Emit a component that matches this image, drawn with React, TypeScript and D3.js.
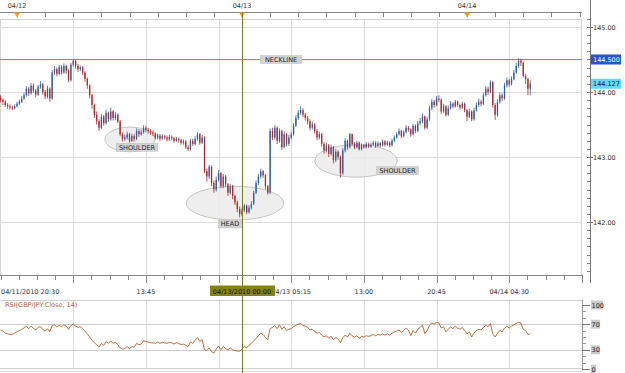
import React from 'react';
import * as d3 from 'd3';

// ---------- DATA ----------
const startTime = Date.UTC(2010, 3, 11, 22, 15); // first 15-minute bar
const barMinutes = 15;
const firstOpen = 143.92;

const closes = [
  143.88, 143.85, 143.80, 143.78, 143.76, 143.75,
  143.78, 143.82, 143.85, 143.90, 143.95,
  144.05, 143.98, 144.10, 144.02, 143.96, 144.08, 144.12, 144.00, 143.93, 144.05, 143.90,
  144.30,
  144.35, 144.28, 144.38, 144.30, 144.40, 144.33, 144.18, 144.42,
  144.48,
  144.40, 144.35, 144.38, 144.30,
  144.20, 144.10, 143.95,
  143.80, 143.65, 143.55,
  143.45,
  143.62, 143.52, 143.68, 143.58, 143.70, 143.60, 143.65,
  143.55,
  143.35, 143.28,
  143.30, 143.35, 143.25, 143.32, 143.28, 143.40, 143.35, 143.38,
  143.45, 143.42, 143.40, 143.38, 143.36,
  143.30, 143.33, 143.28, 143.32, 143.30, 143.27, 143.31, 143.29, 143.25, 143.28, 143.26, 143.22, 143.24,
  143.15, 143.12,
  143.25, 143.20, 143.28, 143.35, 143.22, 143.30,
  142.78,
  142.70, 142.85, 142.60,
  142.50, 142.65, 142.75, 142.55, 142.70, 142.58,
  142.45, 142.55, 142.40,
  142.30, 142.20, 142.12,
  142.18, 142.25, 142.15, 142.22, 142.28,
  142.45, 142.60, 142.70, 142.78,
  142.72, 142.55, 142.45,
  143.40,
  143.30, 143.45, 143.25, 143.40, 143.15, 143.35, 143.20, 143.30,
  143.35, 143.48, 143.60, 143.68, 143.72, 143.65,
  143.60, 143.55, 143.45, 143.50,
  143.40, 143.30, 143.35, 143.20,
  143.10, 143.18, 143.05, 143.15, 142.95, 143.08, 143.00, 142.75,
  143.10, 143.25, 143.15, 143.35,
  143.20, 143.15, 143.22, 143.12, 143.18, 143.15, 143.20, 143.16, 143.19, 143.22, 143.17, 143.21, 143.18, 143.24, 143.19,
  143.22, 143.18, 143.25, 143.30,
  143.35, 143.40, 143.32, 143.38, 143.45,
  143.42, 143.35, 143.48, 143.40, 143.52,
  143.55, 143.62, 143.45, 143.58,
  143.75, 143.85, 143.80, 143.90,
  143.88, 143.70, 143.78, 143.65,
  143.75, 143.82, 143.78, 143.85, 143.80, 143.76, 143.82,
  143.72, 143.62,
  143.70, 143.58,
  143.72, 143.80, 143.85, 143.82,
  143.95, 144.05, 144.00,
  144.15,
  143.80, 143.65,
  143.85, 143.95, 143.90,
  144.10, 144.18, 144.12, 144.20,
  144.30, 144.40, 144.48,
  144.45,
  144.25, 144.20, 144.05, 144.13,
];

const highs = [
  143.95, 143.90, 143.87, 143.83, 143.81, 143.79, 143.81, 143.85, 143.88, 143.94,
  143.99, 144.09, 144.08, 144.14, 144.13, 144.05, 144.11, 144.17, 144.14, 144.03,
  144.10, 144.07, 144.34, 144.40, 144.38, 144.42, 144.41, 144.44, 144.42, 144.35,
  144.45, 144.50, 144.49, 144.43, 144.41, 144.40, 144.32, 144.22, 144.12, 143.97,
  143.82, 143.70, 143.58, 143.66, 143.65, 143.73, 143.70, 143.76, 143.72, 143.69,
  143.67, 143.57, 143.38, 143.34, 143.39, 143.37, 143.36, 143.35, 143.44, 143.43,
  143.42, 143.49, 143.48, 143.45, 143.43, 143.41, 143.38, 143.36, 143.35, 143.35,
  143.34, 143.33, 143.34, 143.33, 143.31, 143.31, 143.30, 143.28, 143.27, 143.26,
  143.18, 143.28, 143.28, 143.32, 143.38, 143.37, 143.34, 143.32, 142.82, 142.88,
  142.87, 142.64, 142.70, 142.80, 142.77, 142.74, 142.72, 142.60, 142.59, 142.57,
  142.42, 142.33, 142.24, 142.22, 142.28, 142.27, 142.26, 142.32, 142.48, 142.64,
  142.74, 142.82, 142.80, 142.74, 142.57, 143.44, 143.45, 143.49, 143.47, 143.44,
  143.42, 143.39, 143.37, 143.34, 143.39, 143.52, 143.64, 143.72, 143.78, 143.75,
  143.68, 143.63, 143.58, 143.54, 143.52, 143.43, 143.39, 143.37, 143.23, 143.22,
  143.20, 143.19, 143.17, 143.12, 143.10, 143.02, 143.14, 143.29, 143.27, 143.37,
  143.36, 143.23, 143.25, 143.24, 143.21, 143.20, 143.23, 143.22, 143.22, 143.25,
  143.24, 143.24, 143.23, 143.27, 143.26, 143.25, 143.24, 143.28, 143.33, 143.38,
  143.44, 143.42, 143.41, 143.49, 143.48, 143.44, 143.51, 143.50, 143.56, 143.60,
  143.67, 143.64, 143.62, 143.79, 143.89, 143.88, 143.94, 143.95, 143.90, 143.82,
  143.80, 143.79, 143.86, 143.84, 143.88, 143.87, 143.82, 143.85, 143.84, 143.74,
  143.74, 143.72, 143.76, 143.84, 143.90, 143.88, 143.99, 144.09, 144.08, 144.18,
  144.17, 143.83, 143.89, 143.99, 143.98, 144.14, 144.22, 144.20, 144.24, 144.34,
  144.45, 144.52, 144.51, 144.47, 144.28, 144.22, 144.18,
];

const lows = [
  143.84, 143.80, 143.77, 143.74, 143.73, 143.72, 143.73, 143.76, 143.80, 143.83,
  143.88, 143.93, 143.94, 143.96, 143.99, 143.92, 143.94, 144.05, 143.96, 143.89,
  143.90, 143.85, 143.88, 144.26, 144.24, 144.26, 144.27, 144.28, 144.28, 144.15,
  144.16, 144.39, 144.36, 144.31, 144.32, 144.26, 144.16, 144.05, 143.90, 143.74,
  143.60, 143.50, 143.40, 143.43, 143.48, 143.50, 143.54, 143.56, 143.56, 143.57,
  143.52, 143.32, 143.24, 143.25, 143.27, 143.22, 143.23, 143.24, 143.26, 143.31,
  143.33, 143.36, 143.38, 143.36, 143.34, 143.32, 143.27, 143.27, 143.25, 143.26,
  143.27, 143.24, 143.25, 143.26, 143.22, 143.23, 143.22, 143.19, 143.19, 143.12,
  143.09, 143.10, 143.17, 143.18, 143.25, 143.19, 143.20, 142.75, 142.62, 142.66,
  142.55, 142.45, 142.47, 142.62, 142.52, 142.52, 142.54, 142.40, 142.42, 142.35,
  142.26, 142.15, 142.07, 142.09, 142.15, 142.12, 142.13, 142.19, 142.26, 142.43,
  142.57, 142.67, 142.68, 142.50, 142.42, 142.43, 143.26, 143.27, 143.20, 143.22,
  143.11, 143.13, 143.16, 143.17, 143.27, 143.33, 143.46, 143.57, 143.65, 143.61,
  143.56, 143.50, 143.41, 143.42, 143.36, 143.26, 143.27, 143.16, 143.05, 143.07,
  143.00, 143.02, 142.90, 142.92, 142.96, 142.68, 142.72, 143.07, 143.11, 143.13,
  143.17, 143.12, 143.13, 143.10, 143.10, 143.13, 143.13, 143.14, 143.14, 143.17,
  143.14, 143.15, 143.15, 143.16, 143.16, 143.17, 143.15, 143.16, 143.23, 143.28,
  143.33, 143.29, 143.30, 143.36, 143.39, 143.31, 143.33, 143.37, 143.38, 143.49,
  143.52, 143.42, 143.43, 143.56, 143.72, 143.76, 143.78, 143.84, 143.66, 143.68,
  143.62, 143.63, 143.73, 143.75, 143.76, 143.77, 143.73, 143.74, 143.69, 143.55,
  143.60, 143.55, 143.56, 143.70, 143.77, 143.78, 143.80, 143.93, 143.96, 143.98,
  143.76, 143.57, 143.62, 143.82, 143.86, 143.88, 144.07, 144.08, 144.10, 144.18,
  144.28, 144.37, 144.40, 144.22, 144.12, 143.95, 143.95,
];

const rsiValues = [
  61, 59, 56, 55, 54, 54, 56, 58, 60, 62,
  64, 67, 63, 67, 64, 61, 65, 66, 62, 59, 63, 58,
  68, 69, 66, 68, 66, 69, 67, 62, 68,
  70, 67, 65, 66, 63,
  59, 55, 50, 45, 41, 38, 34,
  40, 37, 43, 40, 44, 40, 42, 38,
  33, 31, 32, 35, 32, 35, 34, 40, 38, 39,
  44, 43, 42, 41, 41,
  40, 42, 40, 42, 41, 40, 42, 41, 39, 41, 40, 38, 39,
  37, 35, 42, 40, 45, 49, 43, 46,
  30, 29, 33, 27,
  25, 31, 36, 30, 35, 32,
  30, 33, 30, 29, 28, 28,
  31, 35, 33, 37, 40,
  44, 48, 52, 56, 54, 49, 46,
  63,
  65, 68, 63, 69, 62, 66, 60, 62,
  63, 66, 68, 70, 71, 68,
  67, 65, 61, 62, 59, 56, 57, 53,
  50, 52, 48, 51, 46, 49, 47, 41,
  49, 53, 50, 56,
  52, 50, 52, 48, 51, 50, 52, 51, 52, 54, 52, 54, 53, 55, 53,
  55, 53, 56, 58,
  59, 61, 57, 60, 64,
  61, 52, 60, 56, 62,
  65, 69, 55, 60,
  68, 72, 70, 73,
  72, 64, 66, 58,
  62, 66, 63, 67, 64, 62, 65,
  60, 55, 58, 50,
  56, 60, 62, 61,
  65, 68, 66, 71,
  55, 50,
  56, 60, 58,
  64, 67, 64, 67,
  69, 71, 73,
  72,
  62, 60, 54, 55,
];

const priceLabels = [145, 144, 143, 142];
const rsiLabels = [100, 70, 30, 0];
const rsiLevels = [70, 30];
const necklinePrice = 144.5;
const lastPrice = 144.127;

const dayMarkers = [
  { t: Date.UTC(2010, 3, 12), label: '04/12' },
  { t: Date.UTC(2010, 3, 13), label: '04/13' },
  { t: Date.UTC(2010, 3, 14), label: '04/14' },
];
const gridTimes = [
  Date.UTC(2010, 3, 12, 6, 0), Date.UTC(2010, 3, 12, 13, 45), Date.UTC(2010, 3, 12, 21, 30),
  Date.UTC(2010, 3, 13, 5, 15), Date.UTC(2010, 3, 13, 13, 0), Date.UTC(2010, 3, 13, 20, 45),
  Date.UTC(2010, 3, 14, 4, 30),
];
const bottomLabels = [
  { t: Date.UTC(2010, 3, 12, 13, 45), label: '13:45' },
  { t: Date.UTC(2010, 3, 13, 5, 15), label: '04/13 05:15' },
  { t: Date.UTC(2010, 3, 13, 13, 0), label: '13:00' },
  { t: Date.UTC(2010, 3, 13, 20, 45), label: '20:45' },
  { t: Date.UTC(2010, 3, 14, 4, 30), label: '04/14 04:30' },
];
const firstAxisLabel = '04/11/2010 20:30';
const cursorTime = Date.UTC(2010, 3, 13, 0, 0);
const cursorLabel = '04/13/2010 00:00';
const rsiTitle = 'RSI(GBP/JPY:Close, 14)';

// pattern annotations: centre time, centre price, half-width (hours), half-height (price)
const ellipses = [
  { t: Date.UTC(2010, 3, 12, 12, 3), p: 143.27, hw: 2.67, hh: 0.19 },
  { t: Date.UTC(2010, 3, 12, 23, 15), p: 142.29, hw: 5.2, hh: 0.26 },
  { t: Date.UTC(2010, 3, 13, 12, 10), p: 142.94, hw: 4.4, hh: 0.25 },
];
const tags = [
  { t: Date.UTC(2010, 3, 13, 4, 10), p: 144.5, label: 'NECKLINE' },
  { t: Date.UTC(2010, 3, 12, 12, 48), p: 143.15, label: 'SHOULDER' },
  { t: Date.UTC(2010, 3, 12, 22, 43), p: 141.97, label: 'HEAD' },
  { t: Date.UTC(2010, 3, 13, 16, 35), p: 142.79, label: 'SHOULDER' },
];

// ---------- LAYOUT ----------
const W = 625, H = 373;
const plotL = 0, plotR = 582, plotT = 19, plotB = 275;
const axisX = 590;
const rsiT = 300, rsiB = 369;
const FONT = 'DejaVu Sans, Verdana, sans-serif';
const FS = 6.5;
const BLUE = '#2a5fa6';
const RED = '#ad2a2a';

export default function App() {
  const x = d3.scaleUtc()
    .domain([new Date(Date.UTC(2010, 3, 12)), new Date(Date.UTC(2010, 3, 14))])
    .range([17, 467]);
  const y = d3.scaleLinear().domain([142, 145]).range([222, 27]);
  const yr = d3.scaleLinear().domain([0, 100]).range([rsiB, 305]);

  const bars = closes.map((c, i) => ({
    t: new Date(startTime + i * barMinutes * 60000),
    o: i === 0 ? firstOpen : closes[i - 1],
    h: highs[i],
    l: lows[i],
    c,
  }));

  const rsiLine = d3.line<number>()
    .x((_, i) => x(new Date(startTime + i * barMinutes * 60000)))
    .y((v) => yr(v))(rsiValues) || '';

  const domainStart = x.invert(plotL);
  const domainEnd = x.invert(plotR);
  const topTicks = d3.utcHour.every(3)!.range(domainStart, domainEnd);
  const gridStep = (gridTimes[1] - gridTimes[0]) / 4;
  const bottomTicks: number[] = [];
  for (let t = gridTimes[0] - 4 * gridStep; x(new Date(t)) <= plotR; t += gridStep) bottomTicks.push(t);
  const minorPrice = d3.range(141.25, 145.2, 0.125);
  const rsiMinor = d3.range(0, 101, 10);

  const cx = x(new Date(cursorTime));
  const neckY = Math.floor(y(necklinePrice)) + 0.5;

  return (
    <svg width={W} height={H} style={{ position: 'absolute', left: 0, top: 0, background: '#fff' }}
      fontFamily={FONT} fontSize={FS}>
      <rect x={0} y={0} width={W} height={H} fill="#fff" />

      {/* top date axis */}
      <line x1={0} x2={plotR} y1={12.5} y2={12.5} stroke="#888" strokeWidth={1} />
      {topTicks.map((t, i) => (
        <line key={i} x1={Math.round(x(t)) + 0.5} x2={Math.round(x(t)) + 0.5} y1={12.5} y2={17} stroke="#888" />
      ))}
      {dayMarkers.map((d, i) => (
        <g key={i}>
          <text x={x(new Date(d.t))} y={8.3} textAnchor="middle" fill="#333">{d.label}</text>
          <path d={`M${x(new Date(d.t)) - 3},12.5 L${x(new Date(d.t)) + 3},12.5 L${x(new Date(d.t))},17.5 Z`} fill="#f0a020" />
        </g>
      ))}

      {/* main plot frame and grid */}
      <rect x={plotL + 0.5} y={plotT + 0.5} width={plotR - plotL - 1} height={plotB - plotT} fill="none" stroke="#d4d4d4" />
      {gridTimes.map((t, i) => (
        <g key={i}>
          <line x1={Math.round(x(new Date(t))) + 0.5} x2={Math.round(x(new Date(t))) + 0.5} y1={plotT} y2={plotB} stroke="#dddddd" />
          <line x1={Math.round(x(new Date(t))) + 0.5} x2={Math.round(x(new Date(t))) + 0.5} y1={rsiT} y2={rsiB} stroke="#dddddd" />
        </g>
      ))}
      {priceLabels.map((p, i) => (
        <line key={i} x1={plotL} x2={plotR} y1={Math.round(y(p)) + 0.5} y2={Math.round(y(p)) + 0.5} stroke="#dddddd" />
      ))}

      {/* pattern ellipses */}
      {ellipses.map((e, i) => {
        const c = x(new Date(e.t));
        const rx = x(new Date(e.t + e.hw * 3600000)) - c;
        const ry = y(e.p - e.hh) - y(e.p);
        return <ellipse key={i} cx={c} cy={y(e.p)} rx={rx} ry={ry} fill="#ebebeb" fillOpacity={0.85} stroke="#b8b8b8" strokeWidth={0.8} />;
      })}

      {/* neckline */}
      <line x1={plotL} x2={plotR} y1={neckY} y2={neckY} stroke="#6f8fd8" strokeWidth={1} />

      {/* candles */}
      {bars.map((b, i) => {
        const bx = x(b.t);
        const col = b.c >= b.o ? BLUE : RED;
        const top = y(Math.max(b.o, b.c));
        const hgt = Math.max(0.8, Math.abs(y(b.o) - y(b.c)));
        return (
          <g key={i}>
            <line x1={bx} x2={bx} y1={y(b.h)} y2={y(b.l)} stroke={col} strokeWidth={0.8} />
            <rect x={bx - 0.65} y={top} width={1.3} height={hgt} fill={col} />
          </g>
        );
      })}

      {/* tags */}
      {tags.map((tg, i) => {
        const w = tg.label.length * 4.7 + 4;
        const tx = x(new Date(tg.t));
        const ty = y(tg.p);
        return (
          <g key={i}>
            <rect x={tx - w / 2} y={ty - 4} width={w} height={8} fill="#d2d2d2" stroke="#bdbdbd" strokeWidth={0.5} />
            <text x={tx} y={ty + 2.5} textAnchor="middle" fill="#222">{tg.label}</text>
          </g>
        );
      })}

      {/* bottom time axis */}
      <line x1={plotL} x2={plotR} y1={plotB + 0.5} y2={plotB + 0.5} stroke="#888" />
      {bottomTicks.map((t, i) => {
        const tx = Math.round(x(new Date(t))) + 0.5;
        const major = gridTimes.some((g) => Math.abs(g - t) < 1000);
        return <line key={i} x1={tx} x2={tx} y1={plotB} y2={major ? 283 : 280} stroke="#888" />;
      })}
      <line x1={plotR + 0.5} x2={plotR + 0.5} y1={plotB} y2={283} stroke="#888" />
      <text x={1} y={294} fill="#333">{firstAxisLabel}</text>
      {bottomLabels.map((l, i) => (
        <text key={i} x={x(new Date(l.t))} y={294} textAnchor="middle" fill="#333">{l.label}</text>
      ))}

      {/* right price axis */}
      <line x1={axisX + 0.5} x2={axisX + 0.5} y1={0} y2={283} stroke="#777" />
      {minorPrice.map((p, i) => (
        <line key={i} x1={axisX - 3} x2={axisX} y1={Math.round(y(p)) + 0.5} y2={Math.round(y(p)) + 0.5} stroke="#888" />
      ))}
      {priceLabels.map((p, i) => (
        <g key={i}>
          <line x1={axisX} x2={axisX + 3} y1={Math.round(y(p)) + 0.5} y2={Math.round(y(p)) + 0.5} stroke="#777" />
          <text x={axisX + 3} y={y(p) + 2.8} fill="#333">{p.toFixed(2)}</text>
        </g>
      ))}
      <rect x={axisX + 1} y={y(necklinePrice) - 5} width={30} height={10} fill="#2456c8" />
      <text x={axisX + 3} y={y(necklinePrice) + 2.5} fill="#fff">{necklinePrice.toFixed(3)}</text>
      <rect x={axisX + 1} y={y(lastPrice) - 5} width={30} height={10} fill="#6fd2f4" />
      <text x={axisX + 3} y={y(lastPrice) + 2.5} fill="#0c2040">{lastPrice.toFixed(3)}</text>

      {/* RSI panel */}
      <line x1={plotL} x2={plotR} y1={rsiT + 0.5} y2={rsiT + 0.5} stroke="#cfcfcf" />
      <line x1={plotL} x2={plotR} y1={rsiB - 0.5} y2={rsiB - 0.5} stroke="#cfcfcf" />
      <line x1={plotL} x2={plotR} y1={rsiB + 2.5} y2={rsiB + 2.5} stroke="#dcdcdc" />
      {rsiLevels.map((v, i) => (
        <line key={i} x1={plotL} x2={plotR} y1={Math.round(yr(v)) + 0.5} y2={Math.round(yr(v)) + 0.5} stroke="#cccccc" />
      ))}
      <line x1={plotR + 0.5} x2={plotR + 0.5} y1={rsiT} y2={rsiB + 2} stroke="#999" />
      {rsiMinor.map((v, i) => (
        <line key={i} x1={plotR} x2={plotR + 4} y1={Math.round(yr(v)) + 0.5} y2={Math.round(yr(v)) + 0.5} stroke="#999" />
      ))}
      {rsiLabels.map((v, i) => (
        <g key={i}>
          <line x1={plotR} x2={axisX} y1={Math.round(yr(v)) + 0.5} y2={Math.round(yr(v)) + 0.5} stroke="#777" />
          <rect x={axisX + 1} y={yr(v) - 4.5} width={v === 100 ? 12 : v === 0 ? 5 : 9} height={9} fill="#cccccc" />
          <text x={axisX + 1.5} y={yr(v) + 2.5} fill="#222">{v}</text>
        </g>
      ))}
      <path d={rsiLine} fill="none" stroke="#b0622e" strokeWidth={0.9} />
      <text x={5} y={307} fill="#b0622e">{rsiTitle}</text>

      {/* cursor */}
      <line x1={Math.round(cx) + 0.5} x2={Math.round(cx) + 0.5} y1={12.5} y2={H} stroke="#7e7a18" strokeWidth={1} />
      <rect x={cx - 32} y={285.5} width={65} height={10.5} fill="#85821c" />
      <text x={cx} y={294} textAnchor="middle" fill="#111">{cursorLabel}</text>
    </svg>
  );
}
